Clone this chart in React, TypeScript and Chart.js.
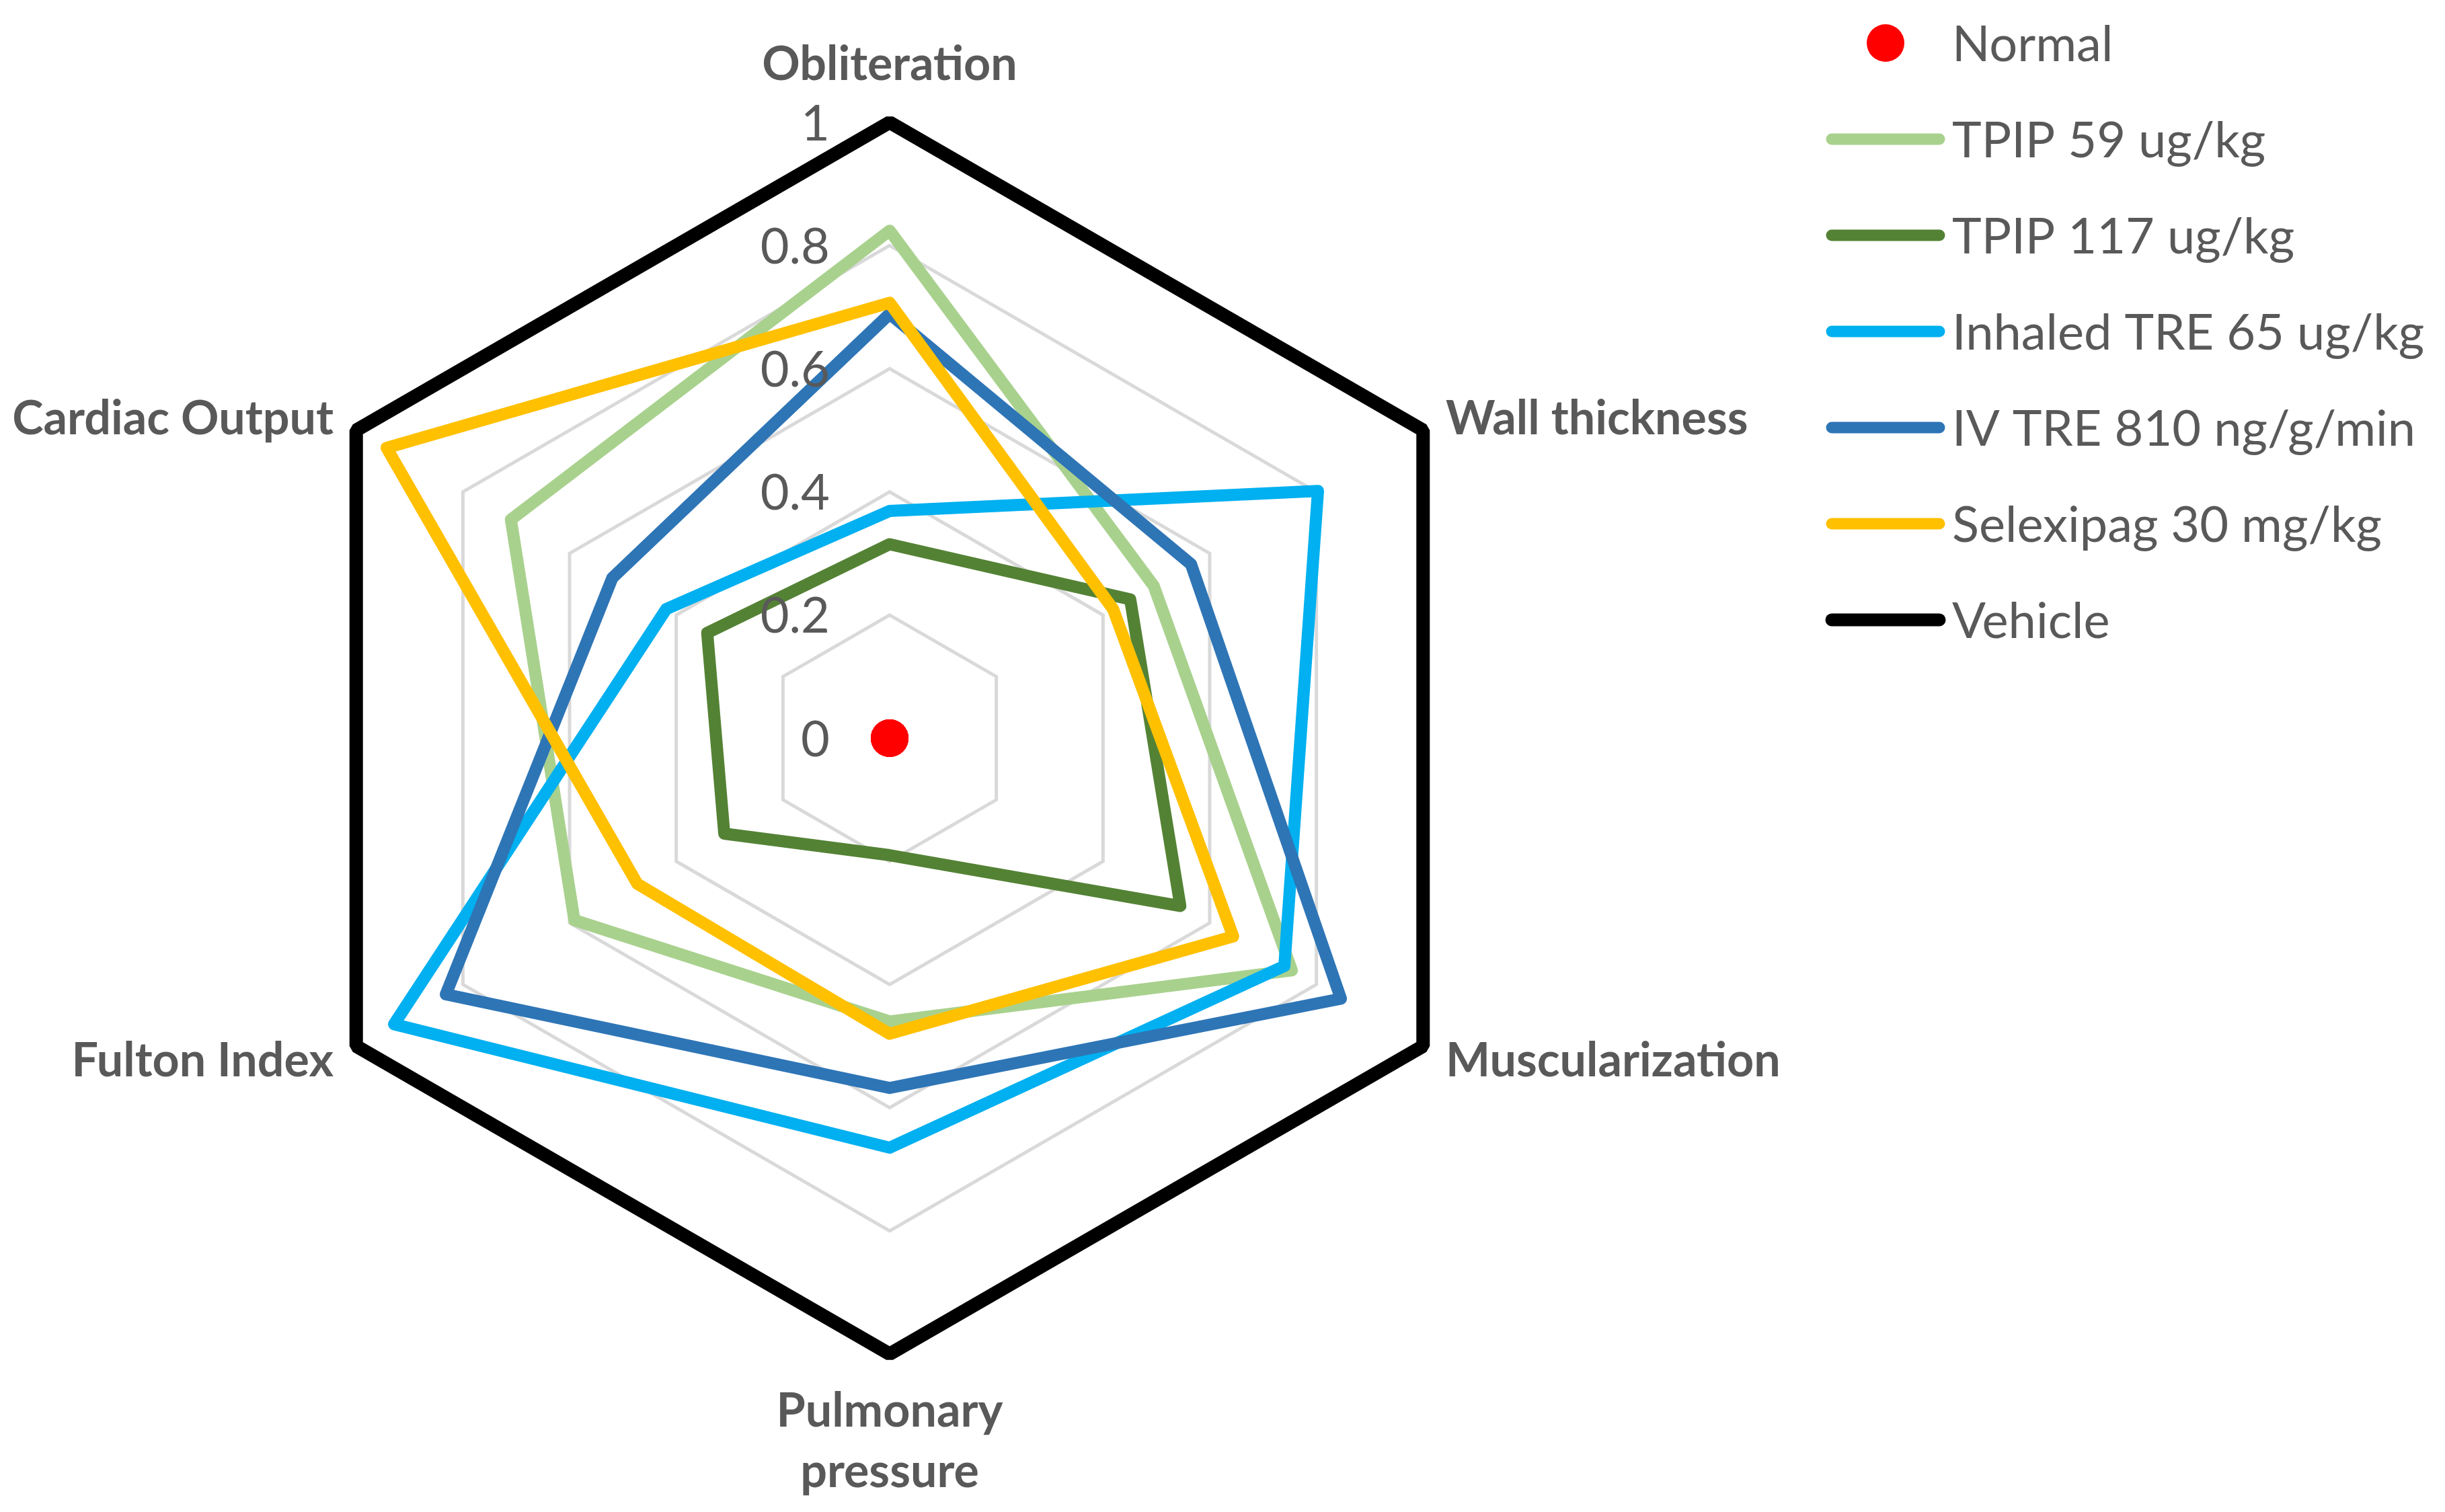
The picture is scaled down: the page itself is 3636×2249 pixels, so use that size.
import React, { useEffect, useRef } from 'react';
import { Chart, registerables } from 'chart.js';

Chart.register(...registerables);

// ---- Data ----
const categories: (string | string[])[] = [
  'Obliteration',
  'Wall thickness',
  'Muscularization',
  ['Pulmonary', 'pressure'],
  'Fulton Index',
  'Cardiac Output',
];

const seriesNames = [
  'Normal',
  'TPIP 59 ug/kg',
  'TPIP 117 ug/kg',
  'Inhaled TRE 65 ug/kg',
  'IV TRE 810 ng/g/min',
  'Selexipag 30 mg/kg',
  'Vehicle',
];

const normal = [0, 0, 0, 0, 0, 0];
const tpip59 = [0.824, 0.495, 0.754, 0.46, 0.591, 0.71];
const tpip117 = [0.315, 0.451, 0.545, 0.19, 0.31, 0.342];
const inhaledTre65 = [0.369, 0.803, 0.74, 0.665, 0.929, 0.419];
const ivTre810 = [0.689, 0.565, 0.846, 0.568, 0.832, 0.52];
const selexipag30 = [0.707, 0.419, 0.644, 0.48, 0.473, 0.943];
const vehicle = [1, 1, 1, 1, 1, 1];

const tickValues = [0, 0.2, 0.4, 0.6, 0.8, 1];
const tickLabels = ['0', '0.2', '0.4', '0.6', '0.8', '1'];

// ---- Styles ----
const seriesColors = ['#FF0000', '#A9D18E', '#548235', '#00B0F0', '#2E75B6', '#FFC000', '#000000'];
const FONT = 'Lato, "Open Sans", sans-serif';
const TEXT_COLOR = '#595959';
const CAP = 0.7165;

const W = 3636;
const H = 2249;

const overlayPlugin = {
  id: 'overlay',
  afterDraw(chart: any) {
    const ctx: CanvasRenderingContext2D = chart.ctx;
    const scale = chart.scales.r;
    const R = scale.drawingArea;
    const xc = scale.xCenter;
    const yc = scale.yCenter;
    ctx.save();
    ctx.fillStyle = TEXT_COLOR;

    // tick labels, left of the vertical axis
    const tickSize = 74;
    ctx.font = `${tickSize}px ${FONT}`;
    ctx.textAlign = 'right';
    ctx.textBaseline = 'alphabetic';
    tickValues.forEach((v, i) => {
      const p = scale.getPointPositionForValue(0, v);
      ctx.fillText(tickLabels[i], xc - 89, p.y + (tickSize * CAP) / 2);
    });

    // axis (point) labels
    const ls = 70;
    const lcap = ls * CAP;
    const lineGap = 90;
    ctx.font = `bold ${ls}px ${FONT}`;
    (chart.data.labels as (string | string[])[]).forEach((lab, i) => {
      const lines = Array.isArray(lab) ? lab : [lab];
      const probe = scale.getPointPosition(i, R);
      const dx = probe.x - xc;
      if (Math.abs(dx) < 1) {
        ctx.textAlign = 'center';
        if (probe.y < yc) {
          const p = scale.getPointPosition(i, R + 63);
          lines.forEach((t, k) => ctx.fillText(t, p.x, p.y - (lines.length - 1 - k) * lineGap));
        } else {
          const p = scale.getPointPosition(i, R + 58);
          lines.forEach((t, k) => ctx.fillText(t, p.x, p.y + lcap + k * lineGap));
        }
      } else {
        const p = scale.getPointPosition(i, R + 39);
        ctx.textAlign = dx > 0 ? 'left' : 'right';
        lines.forEach((t, k) =>
          ctx.fillText(t, p.x, p.y + lcap / 2 + (k - (lines.length - 1) / 2) * lineGap)
        );
      }
    });

    // legend
    const legSize = 74;
    const rowY0 = 64;
    const rowStep = 143;
    const lineX0 = 2724;
    const lineX1 = 2884;
    const textX = 2903;
    ctx.font = `${legSize}px ${FONT}`;
    ctx.textAlign = 'left';
    chart.data.datasets.forEach((ds: any, i: number) => {
      const y = rowY0 + i * rowStep;
      if (i === 0) {
        ctx.beginPath();
        ctx.fillStyle = ds.pointBackgroundColor;
        ctx.arc((lineX0 + lineX1) / 2, y, 28, 0, Math.PI * 2);
        ctx.fill();
      } else {
        ctx.beginPath();
        ctx.strokeStyle = ds.borderColor;
        ctx.lineWidth = ds.legendWidth;
        ctx.lineCap = 'round';
        ctx.moveTo(lineX0, y);
        ctx.lineTo(lineX1, y);
        ctx.stroke();
      }
      ctx.fillStyle = TEXT_COLOR;
      ctx.fillText(ds.label, textX, y + (legSize * CAP) / 2);
    });

    ctx.restore();
  },
};

export default function App() {
  const canvasRef = useRef<HTMLCanvasElement | null>(null);

  useEffect(() => {
    const canvas = canvasRef.current;
    if (!canvas) return;
    const values = [normal, tpip59, tpip117, inhaledTre65, ivTre810, selexipag30, vehicle];
    const n = values.length;
    const datasets = values.map((data, i) => {
      if (i === 0) {
        return {
          label: seriesNames[i],
          data,
          showLine: false,
          borderWidth: 0,
          borderColor: 'rgba(0,0,0,0)',
          backgroundColor: 'rgba(0,0,0,0)',
          pointRadius: 28,
          pointHoverRadius: 28,
          pointBackgroundColor: seriesColors[i],
          pointBorderWidth: 0,
          fill: false,
          order: n - 1 - i,
        } as any;
      }
      const isVehicle = i === n - 1;
      return {
        label: seriesNames[i],
        data,
        borderColor: seriesColors[i],
        backgroundColor: 'rgba(0,0,0,0)',
        borderWidth: isVehicle ? 20 : 18,
        borderJoinStyle: isVehicle ? 'bevel' : 'round',
        legendWidth: isVehicle ? 19 : 17,
        pointRadius: 0,
        pointHoverRadius: 0,
        fill: false,
        tension: 0,
        order: n - 1 - i,
      } as any;
    });

    const chart = new Chart(canvas, {
      type: 'radar',
      data: { labels: categories as any, datasets },
      options: {
        responsive: false,
        animation: false,
        devicePixelRatio: 1,
        events: [],
        layout: { padding: 0 },
        plugins: { legend: { display: false }, tooltip: { enabled: false } },
        scales: {
          r: {
            min: 0,
            max: 1,
            ticks: { display: false, stepSize: 0.2 },
            grid: { color: '#D9D9D9', lineWidth: 5, circular: false },
            angleLines: { display: false },
            pointLabels: { display: false },
            afterFit: (scale: any) => {
              scale.xCenter = 1323;
              scale.yCenter = 1098;
              scale.drawingArea = 916;
            },
          } as any,
        },
      },
      plugins: [overlayPlugin],
    });
    return () => chart.destroy();
  }, []);

  return (
    <div style={{ position: 'fixed', left: 0, top: 0, width: W, height: H, background: '#fff' }}>
      <canvas ref={canvasRef} width={W} height={H} style={{ width: W, height: H, display: 'block' }} />
    </div>
  );
}
